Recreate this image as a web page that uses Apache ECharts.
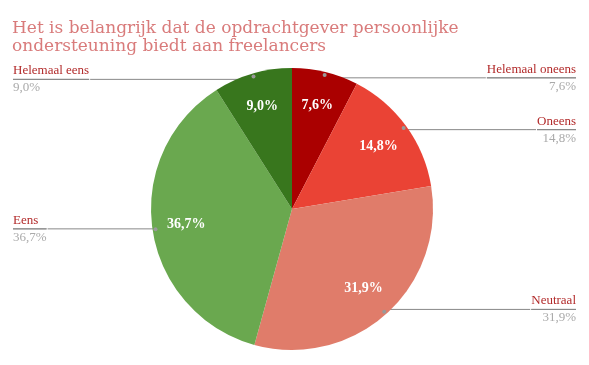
<!DOCTYPE html>
<html>
<head>
<meta charset="utf-8">
<script src="https://cdn.jsdelivr.net/npm/echarts@6/dist/echarts.min.js"></script>
<style>html,body{margin:0;padding:0;background:#fff}#c{width:589px;height:365px}</style>
</head>
<body>
<div id="c"></div>
<script>
const titleText = 'Het is belangrijk dat de opdrachtgever persoonlijke\nondersteuning biedt aan freelancers';
const categories = ['Helemaal oneens', 'Oneens', 'Neutraal', 'Eens', 'Helemaal eens'];
const values = [7.6, 14.8, 31.9, 36.7, 9.0];
const colors = ['#aa0000', '#ea4335', '#e07c6a', '#6aa84f', '#38761d'];

const fmt = v => v.toFixed(1).replace('.', ',') + '%';
const data = categories.map((n, i) => ({ name: n, value: values[i], itemStyle: { color: colors[i] } }));
const clearData = categories.map((n, i) => ({ name: n, value: values[i] }));
const SERIF = '"Liberation Serif", "DejaVu Serif", serif';
const CX = 292, CY = 209, R = 141;

const common = {
  type: 'pie', center: [CX, CY], startAngle: 90, clockwise: true,
  silent: true, animation: false, emphasis: { disabled: true }
};

const chart = echarts.init(document.getElementById('c'), null, { renderer: 'canvas' });
chart.setOption({
  backgroundColor: '#fff',
  title: {
    text: titleText, left: 12, top: 20, padding: 0,
    textStyle: { fontFamily: '"DejaVu Serif", serif', fontSize: 17, fontWeight: 'normal', color: '#d97b7b', lineHeight: 18 }
  },
  series: [
    Object.assign({}, common, {
      radius: [0, R], data: data, label: { show: false }, labelLine: { show: false },
      itemStyle: { borderWidth: 0 }
    }),
    Object.assign({}, common, {
      radius: [67, R], data: clearData,
      itemStyle: { color: 'rgba(0,0,0,0)' },
      label: {
        show: true, position: 'inside',
        formatter: p => fmt(p.value),
        fontFamily: SERIF, fontSize: 14, fontWeight: 'bold', color: '#fff'
      },
      labelLine: { show: false }
    }),
    Object.assign({}, common, {
      radius: [130, 140], data: clearData,
      itemStyle: { color: 'rgba(0,0,0,0)' },
      label: {
        show: true, position: 'inside', formatter: '{d|}',
        rich: { d: { width: 4, height: 4, borderRadius: 2, backgroundColor: '#999' } }
      },
      labelLine: { show: false }
    }),
    Object.assign({}, common, {
      radius: [0, 135], data: clearData,
      itemStyle: { color: 'rgba(0,0,0,0)' },
      label: {
        show: true, position: 'outside', alignTo: 'edge', edgeDistance: 13, distanceToLabelLine: 0,
        formatter: p => '{n|' + p.name + '}\n{hr|}\n{v|' + fmt(p.value) + '}',
        rich: {
          n: { fontFamily: SERIF, fontSize: 13, color: '#b22a2a', lineHeight: 15, padding: [0, 0, 2, 0] },
          hr: { borderColor: '#888', width: '100%', borderWidth: 1, height: 0 },
          v: { fontFamily: SERIF, fontSize: 13, color: '#aaa', lineHeight: 15, padding: [2, 0, 0, 0] }
        }
      },
      labelLine: { show: true, length: 0, length2: 10, lineStyle: { color: '#888', width: 1 } }
    })
  ]
});
</script>
</body>
</html>
